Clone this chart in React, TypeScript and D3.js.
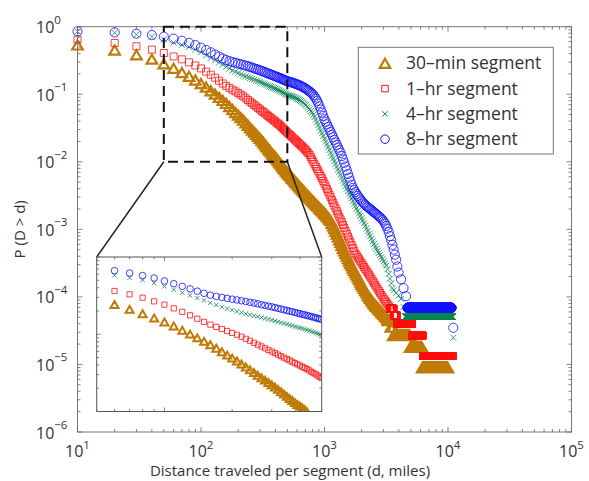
import React from "react";
import * as d3 from "d3";

// ---------- data ----------
// distance grid of the first part of each curve (miles, 10-mile bins)
const distanceHead = [10, 20, 30, 40, 50, 60, 70, 80, 90, 100, 110, 120, 130, 140, 150, 160, 170, 180, 190, 200,
  210, 220, 230, 240, 250, 260, 270, 280, 290, 300, 310, 320, 330, 340, 350, 360, 370, 380, 390, 400,
  410, 420, 430, 440, 450, 460, 470, 480, 490, 500];

// log10 P(D > d) on distanceHead
const min30HeadLog = [-0.270, -0.345, -0.415, -0.480, -0.550, -0.615, -0.678, -0.734, -0.790, -0.842, -0.894, -0.948, -0.998, -1.047, -1.092, -1.136, -1.182, -1.227, -1.270, -1.309,
  -1.346, -1.384, -1.424, -1.460, -1.496, -1.530, -1.562, -1.594, -1.624, -1.654, -1.683, -1.714, -1.745, -1.775, -1.804, -1.831, -1.858, -1.885, -1.910, -1.928,
  -1.954, -1.978, -2.003, -2.027, -2.050, -2.074, -2.096, -2.117, -2.139, -2.160];
const hr1HeadLog = [-0.192, -0.241, -0.290, -0.340, -0.390, -0.440, -0.483, -0.527, -0.574, -0.617, -0.665, -0.710, -0.755, -0.799, -0.840, -0.876, -0.905, -0.932, -0.958, -0.983,
  -1.006, -1.032, -1.059, -1.085, -1.111, -1.135, -1.158, -1.181, -1.203, -1.224, -1.245, -1.264, -1.284, -1.303, -1.321, -1.339, -1.356, -1.373, -1.389, -1.405,
  -1.421, -1.436, -1.451, -1.468, -1.486, -1.503, -1.519, -1.535, -1.551, -1.567];
const hr4HeadLog = [-0.072, -0.090, -0.115, -0.145, -0.190, -0.237, -0.268, -0.298, -0.337, -0.380, -0.423, -0.462, -0.497, -0.531, -0.561, -0.592, -0.620, -0.648, -0.668, -0.687,
  -0.705, -0.720, -0.735, -0.748, -0.760, -0.772, -0.784, -0.795, -0.806, -0.817, -0.828, -0.839, -0.850, -0.861, -0.871, -0.881, -0.890, -0.900, -0.909, -0.918,
  -0.926, -0.935, -0.943, -0.953, -0.963, -0.972, -0.982, -0.991, -1.000, -1.009];
const hr8HeadLog = [-0.069, -0.084, -0.104, -0.124, -0.148, -0.177, -0.208, -0.240, -0.272, -0.310, -0.345, -0.380, -0.412, -0.442, -0.470, -0.494, -0.510, -0.523, -0.535, -0.546,
  -0.556, -0.566, -0.576, -0.586, -0.596, -0.606, -0.617, -0.627, -0.636, -0.645, -0.655, -0.665, -0.674, -0.684, -0.692, -0.701, -0.709, -0.718, -0.726, -0.734,
  -0.742, -0.749, -0.757, -0.764, -0.772, -0.779, -0.787, -0.794, -0.801, -0.808];

// tails beyond 500 miles: [log10 d, log10 P]
const min30Tail: [number, number][] = [
  [2.71, -2.181], [2.72, -2.202], [2.73, -2.223], [2.74, -2.244], [2.75, -2.265], [2.76, -2.286], [2.77, -2.307], [2.78, -2.328], [2.79, -2.349], [2.80, -2.370],
  [2.81, -2.390], [2.82, -2.410], [2.83, -2.430], [2.84, -2.450], [2.85, -2.470], [2.86, -2.490], [2.87, -2.510], [2.88, -2.530], [2.89, -2.550], [2.90, -2.570],
  [2.91, -2.589], [2.92, -2.608], [2.93, -2.627], [2.94, -2.646], [2.95, -2.665], [2.96, -2.684], [2.97, -2.703], [2.98, -2.722], [2.99, -2.741], [3.00, -2.760],
  [3.01, -2.782], [3.02, -2.804], [3.03, -2.826], [3.04, -2.848], [3.05, -2.870], [3.06, -2.910], [3.07, -2.950], [3.08, -2.990], [3.09, -3.030], [3.10, -3.070],
  [3.11, -3.112], [3.12, -3.154], [3.13, -3.196], [3.14, -3.238], [3.15, -3.280], [3.16, -3.318], [3.17, -3.356], [3.18, -3.394], [3.19, -3.432], [3.20, -3.470],
  [3.21, -3.504], [3.22, -3.538], [3.23, -3.572], [3.24, -3.606], [3.25, -3.640], [3.26, -3.674], [3.27, -3.708], [3.28, -3.742], [3.29, -3.776], [3.30, -3.810],
  [3.31, -3.842], [3.32, -3.874], [3.33, -3.906], [3.34, -3.938], [3.35, -3.970], [3.36, -3.996], [3.37, -4.022], [3.38, -4.048], [3.39, -4.074], [3.40, -4.100],
  [3.41, -4.120], [3.42, -4.140], [3.43, -4.160], [3.44, -4.180], [3.45, -4.200], [3.46, -4.220], [3.47, -4.240], [3.48, -4.260], [3.49, -4.280], [3.50, -4.300],
  [3.51, -4.325]];
const hr1Tail: [number, number][] = [
  [2.71, -1.586], [2.72, -1.603], [2.73, -1.620], [2.74, -1.637], [2.75, -1.654], [2.76, -1.671], [2.77, -1.688], [2.78, -1.705], [2.79, -1.722], [2.80, -1.740],
  [2.81, -1.757], [2.82, -1.774], [2.83, -1.792], [2.84, -1.810], [2.85, -1.830], [2.86, -1.850], [2.87, -1.872], [2.88, -1.900], [2.89, -1.932], [2.90, -1.966],
  [2.91, -2.001], [2.92, -2.036], [2.93, -2.071], [2.94, -2.106], [2.95, -2.141], [2.96, -2.176], [2.97, -2.211], [2.98, -2.246], [2.99, -2.285], [3.00, -2.323],
  [3.01, -2.362], [3.02, -2.403], [3.03, -2.444], [3.04, -2.485], [3.05, -2.525], [3.06, -2.566], [3.07, -2.607], [3.08, -2.648], [3.09, -2.689], [3.10, -2.730],
  [3.11, -2.771], [3.12, -2.812], [3.13, -2.852], [3.14, -2.893], [3.15, -2.936], [3.16, -2.978], [3.17, -3.021], [3.18, -3.063], [3.19, -3.106], [3.20, -3.148],
  [3.21, -3.191], [3.22, -3.233], [3.23, -3.276], [3.24, -3.318], [3.25, -3.357], [3.26, -3.385], [3.27, -3.414], [3.28, -3.443], [3.29, -3.471], [3.30, -3.500],
  [3.31, -3.528], [3.32, -3.557], [3.33, -3.585], [3.34, -3.614], [3.35, -3.642], [3.36, -3.671], [3.37, -3.700], [3.38, -3.730], [3.39, -3.760], [3.40, -3.790],
  [3.41, -3.820], [3.42, -3.850], [3.43, -3.880], [3.44, -3.910], [3.45, -3.940], [3.46, -3.970], [3.47, -4.000], [3.48, -4.030], [3.49, -4.055], [3.50, -4.080],
  [3.51, -4.105], [3.52, -4.130], [3.53, -4.160]];
const hr4Tail: [number, number][] = [
  [2.71, -1.016], [2.72, -1.022], [2.73, -1.028], [2.74, -1.034], [2.75, -1.040], [2.76, -1.048], [2.77, -1.057], [2.78, -1.066], [2.79, -1.077], [2.80, -1.088],
  [2.81, -1.101], [2.82, -1.115], [2.83, -1.129], [2.84, -1.144], [2.85, -1.160], [2.86, -1.180], [2.87, -1.202], [2.88, -1.225], [2.89, -1.248], [2.90, -1.272],
  [2.91, -1.303], [2.92, -1.336], [2.93, -1.375], [2.94, -1.416], [2.95, -1.456], [2.96, -1.497], [2.97, -1.538], [2.98, -1.578], [2.99, -1.619], [3.00, -1.660],
  [3.01, -1.701], [3.02, -1.742], [3.03, -1.783], [3.04, -1.825], [3.05, -1.868], [3.06, -1.909], [3.07, -1.950], [3.08, -1.990], [3.09, -2.030], [3.10, -2.070],
  [3.11, -2.110], [3.12, -2.150], [3.13, -2.192], [3.14, -2.233], [3.15, -2.275], [3.16, -2.318], [3.17, -2.360], [3.18, -2.396], [3.19, -2.433], [3.20, -2.470],
  [3.21, -2.507], [3.22, -2.543], [3.23, -2.580], [3.24, -2.617], [3.25, -2.653], [3.26, -2.690], [3.27, -2.726], [3.28, -2.763], [3.29, -2.800], [3.30, -2.836],
  [3.31, -2.870], [3.32, -2.908], [3.33, -2.946], [3.34, -2.985], [3.35, -3.024], [3.36, -3.063], [3.37, -3.102], [3.38, -3.140], [3.39, -3.178], [3.40, -3.216],
  [3.41, -3.254], [3.42, -3.286], [3.43, -3.318], [3.44, -3.349], [3.45, -3.380], [3.46, -3.411], [3.47, -3.442], [3.48, -3.473], [3.49, -3.504], [3.50, -3.535],
  [3.51, -3.590], [3.52, -3.660], [3.53, -3.730], [3.54, -3.800], [3.55, -3.870], [3.56, -3.900], [3.58, -3.940], [3.60, -3.980], [3.62, -4.030], [3.64, -4.150],
  [4.043, -4.605]];
const hr8Tail: [number, number][] = [
  [2.71, -0.813], [2.72, -0.818], [2.73, -0.823], [2.74, -0.829], [2.75, -0.835], [2.76, -0.841], [2.77, -0.848], [2.78, -0.855], [2.79, -0.862], [2.80, -0.870],
  [2.81, -0.879], [2.82, -0.888], [2.83, -0.898], [2.84, -0.909], [2.85, -0.920], [2.86, -0.933], [2.87, -0.946], [2.88, -0.960], [2.89, -0.975], [2.90, -0.990],
  [2.91, -1.012], [2.92, -1.037], [2.93, -1.064], [2.94, -1.097], [2.95, -1.135], [2.96, -1.180], [2.97, -1.225], [2.98, -1.272], [2.99, -1.320], [3.00, -1.370],
  [3.01, -1.408], [3.02, -1.446], [3.03, -1.484], [3.04, -1.522], [3.05, -1.560], [3.06, -1.598], [3.07, -1.636], [3.08, -1.674], [3.09, -1.712], [3.10, -1.750],
  [3.11, -1.790], [3.12, -1.830], [3.13, -1.868], [3.14, -1.915], [3.15, -1.965], [3.16, -2.015], [3.17, -2.070], [3.18, -2.125], [3.19, -2.180], [3.20, -2.235],
  [3.21, -2.290], [3.22, -2.340], [3.23, -2.385], [3.24, -2.420], [3.25, -2.450], [3.26, -2.478], [3.27, -2.505], [3.28, -2.530], [3.29, -2.555], [3.30, -2.578],
  [3.31, -2.600], [3.32, -2.620], [3.33, -2.640], [3.34, -2.656], [3.35, -2.670], [3.36, -2.685], [3.37, -2.700], [3.38, -2.715], [3.39, -2.730], [3.40, -2.745],
  [3.41, -2.760], [3.42, -2.775], [3.43, -2.790], [3.44, -2.806], [3.45, -2.822], [3.46, -2.840], [3.47, -2.860], [3.48, -2.885], [3.49, -2.915], [3.50, -2.950],
  [3.51, -2.990], [3.52, -3.040], [3.53, -3.100], [3.54, -3.160], [3.55, -3.230], [3.56, -3.300], [3.57, -3.375], [3.58, -3.450], [3.59, -3.550], [3.60, -3.640],
  [3.62, -3.740], [3.64, -3.870], [3.66, -3.990], [4.043, -4.457]];

// flat stretches of the far tail (constant P over consecutive 10-mile bins)
type Run = { from: number; to: number; logP: number };
const BIN = 10;
const min30Runs: Run[] = [
  { from: 3270, to: 3430, logP: -4.35 }, { from: 3440, to: 3590, logP: -4.447 },
  { from: 3600, to: 4920, logP: -4.572 }, { from: 4930, to: 6170, logP: -4.748 },
  { from: 6180, to: 10000, logP: -5.049 }];
const hr1Runs: Run[] = [
  { from: 3390, to: 3630, logP: -4.176 }, { from: 3640, to: 3850, logP: -4.273 },
  { from: 3860, to: 5120, logP: -4.398 }, { from: 5130, to: 6240, logP: -4.574 },
  { from: 6280, to: 10900, logP: -4.875 }];
const hr4Runs: Run[] = [{ from: 4520, to: 10900, logP: -4.294 }];
const hr8Runs: Run[] = [{ from: 4700, to: 10660, logP: -4.161 }];

const seriesNames = ["30\u2013min segment", "1\u2013hr segment", "4\u2013hr segment", "8\u2013hr segment"];
const xTickExps = [1, 2, 3, 4, 5];
const yTickExps = [0, -1, -2, -3, -4, -5, -6];

// ---------- layout ----------
const W = 589, H = 481;
const FONT = "'Open Sans', 'Noto Sans', sans-serif";
const xMain = d3.scaleLog().domain([10, 1e5]).range([77.5, 571.5]);
const yMain = d3.scaleLog().domain([1e-6, 1]).range([432, 26.7]);
const xIn = d3.scaleLog().domain([50, 500]).range([96.7, 321.7]);
const yIn = d3.scaleLog().domain([0.01, 1]).range([411.5, 257]);

type Kind = "tri" | "sq" | "x" | "o";
const styles: { kind: Kind; color: string; main: number; inset: number; lg: number; sw: number; isw: number }[] = [
  { kind: "tri", color: "#bf7b06", main: 10.5, inset: 8, lg: 10.5, sw: 2.2, isw: 2 },
  { kind: "sq", color: "#ff1010", main: 7, inset: 5.2, lg: 6.5, sw: 0.8, isw: 0.8 },
  { kind: "x", color: "#078552", main: 6, inset: 4.4, lg: 5.5, sw: 0.8, isw: 0.8 },
  { kind: "o", color: "#1010ff", main: 9.2, inset: 6.6, lg: 8.5, sw: 0.8, isw: 0.8 },
];

function buildPoints(head: number[], tail: [number, number][], runs: Run[]) {
  const pts: { d: number; p: number }[] = [];
  head.forEach((v, i) => pts.push({ d: distanceHead[i], p: Math.pow(10, v) }));
  tail.forEach(([ld, lp]) => pts.push({ d: Math.pow(10, ld), p: Math.pow(10, lp) }));
  runs.forEach((r) => d3.range(r.from, r.to + 1, BIN).forEach((d) => pts.push({ d, p: Math.pow(10, r.logP) })));
  return pts;
}

const seriesPoints = [
  buildPoints(min30HeadLog, min30Tail, min30Runs),
  buildPoints(hr1HeadLog, hr1Tail, hr1Runs),
  buildPoints(hr4HeadLog, hr4Tail, hr4Runs),
  buildPoints(hr8HeadLog, hr8Tail, hr8Runs),
];

function glyph(kind: Kind, x: number, y: number, s: number): string {
  if (kind === "tri") {
    const h = s * 0.866;
    return `M${x},${y - h / 2}L${x + s / 2},${y + h / 2}L${x - s / 2},${y + h / 2}Z`;
  }
  if (kind === "sq") return `M${x - s / 2},${y - s / 2}h${s}v${s}h${-s}Z`;
  if (kind === "x") {
    const a = s / 2;
    return `M${x - a},${y - a}L${x + a},${y + a}M${x - a},${y + a}L${x + a},${y - a}`;
  }
  const r = s / 2;
  return `M${x + r},${y}a${r},${r} 0 1,0 ${-2 * r},0a${r},${r} 0 1,0 ${2 * r},0`;
}

function Ticks({ xs, ys, x0, x1, y0, y1, major, minor }: any) {
  const out: JSX.Element[] = [];
  xs.forEach((t: { v: number; major: boolean }, i: number) => {
    const L = t.major ? major : minor;
    out.push(<line key={"xb" + i} x1={t.v} x2={t.v} y1={y1} y2={y1 - L} />);
    out.push(<line key={"xt" + i} x1={t.v} x2={t.v} y1={y0} y2={y0 + L} />);
  });
  ys.forEach((t: { v: number; major: boolean }, i: number) => {
    const L = t.major ? major : minor;
    out.push(<line key={"yl" + i} x1={x0} x2={x0 + L} y1={t.v} y2={t.v} />);
    out.push(<line key={"yr" + i} x1={x1} x2={x1 - L} y1={t.v} y2={t.v} />);
  });
  return <g stroke="#666" strokeWidth={0.8}>{out}</g>;
}

function logTicks(lo: number, hi: number, scale: (v: number) => number) {
  const res: { v: number; major: boolean }[] = [];
  for (let e = Math.floor(Math.log10(lo)); e <= Math.ceil(Math.log10(hi)); e++) {
    for (let m = 1; m <= 9; m++) {
      const v = m * Math.pow(10, e);
      if (v < lo * 0.999 || v > hi * 1.001) continue;
      res.push({ v: scale(v), major: m === 1 });
    }
  }
  return res;
}

export default function App() {
  const [mx0, mx1] = xMain.range();
  const [my1, my0] = yMain.range();
  const [ix0, ix1] = xIn.range();
  const [iy1, iy0] = yIn.range();
  const bx0 = xMain(50), bx1 = xMain(500), by1 = yMain(0.01), by0 = yMain(1);

  return (
    <svg width={W} height={H} style={{ position: "absolute", left: 0, top: 0, background: "#fff" }} fontFamily={FONT}>
      <rect x={0} y={0} width={W} height={H} fill="#fff" />
      {/* main data */}
      {seriesPoints.map((pts, si) => {
        const st = styles[si];
        const d = pts.map((p) => glyph(st.kind, xMain(p.d), yMain(p.p), st.main)).join("");
        return <path key={"m" + si} d={d} fill="none" stroke={st.color} strokeWidth={st.sw} />;
      })}
      {/* main frame & ticks */}
      <rect x={mx0} y={my0} width={mx1 - mx0} height={my1 - my0} fill="none" stroke="#777" strokeWidth={1} />
      <Ticks xs={logTicks(10, 1e5, xMain)} ys={logTicks(1e-6, 1, yMain)} x0={mx0} x1={mx1} y0={my0} y1={my1} major={5} minor={3} />
      {/* tick labels */}
      <g fill="#333" fontSize={16}>
        {xTickExps.map((e) => (
          <text key={"xl" + e} x={xMain(Math.pow(10, e))} y={457} textAnchor="middle">
            10<tspan fontSize={11.5} dy={-8.5}>{String(e)}</tspan>
          </text>
        ))}
        {yTickExps.map((e) => (
          <text key={"yl" + e} x={36} y={yMain(Math.pow(10, e)) + 6.5} textAnchor="start">
            10<tspan fontSize={11.5} dy={-9.5}>{e === 0 ? "0" : "\u2212" + Math.abs(e)}</tspan>
          </text>
        ))}
      </g>
      <text x={290} y={476} textAnchor="middle" fontSize={15} fill="#333">
        Distance traveled per segment (d, miles)
      </text>
      <text transform={`translate(25,${(my0 + my1) / 2}) rotate(-90)`} textAnchor="middle" fontSize={15} fill="#333">
        P (D &gt; d)
      </text>
      {/* zoom box and connectors */}
      <rect x={bx0} y={by0} width={bx1 - bx0} height={by1 - by0} fill="none" stroke="#111" strokeWidth={2} strokeDasharray="10 6" />
      <line x1={bx0} y1={by1} x2={ix0} y2={iy0} stroke="#222" strokeWidth={1.5} />
      <line x1={bx1} y1={by1} x2={ix1} y2={iy0} stroke="#222" strokeWidth={1.5} />
      {/* inset */}
      <defs>
        <clipPath id="insetClip">
          <rect x={ix0} y={iy0} width={ix1 - ix0} height={iy1 - iy0} />
        </clipPath>
      </defs>
      <rect x={ix0} y={iy0} width={ix1 - ix0} height={iy1 - iy0} fill="#fff" />
      <g clipPath="url(#insetClip)">
        {seriesPoints.map((pts, si) => {
          const st = styles[si];
          const d = pts
            .filter((p) => p.d > 55 && p.d <= 500 && p.p >= 0.0095)
            .map((p) => glyph(st.kind, xIn(p.d), yIn(p.p), st.inset))
            .join("");
          return <path key={"i" + si} d={d} fill="none" stroke={st.color} strokeWidth={st.isw} />;
        })}
      </g>
      <rect x={ix0} y={iy0} width={ix1 - ix0} height={iy1 - iy0} fill="none" stroke="#555" strokeWidth={1} />
      <Ticks xs={logTicks(50, 500, xIn)} ys={logTicks(0.01, 1, yIn)} x0={ix0} x1={ix1} y0={iy0} y1={iy1} major={4} minor={2.5} />
      {/* legend */}
      <rect x={358.3} y={47.3} width={195} height={106.7} fill="#fff" stroke="#777" strokeWidth={1} />
      {seriesNames.map((name, i) => {
        const st = styles[i];
        const cy = 63.3 + i * 25.3;
        return (
          <g key={"lg" + i}>
            <path d={glyph(st.kind, 385, cy, st.lg)} fill="none" stroke={st.color} strokeWidth={i === 0 ? 2.2 : 1} />
            <text x={406} y={cy + 6} fontSize={17.5} fill="#333">{name}</text>
          </g>
        );
      })}
    </svg>
  );
}
